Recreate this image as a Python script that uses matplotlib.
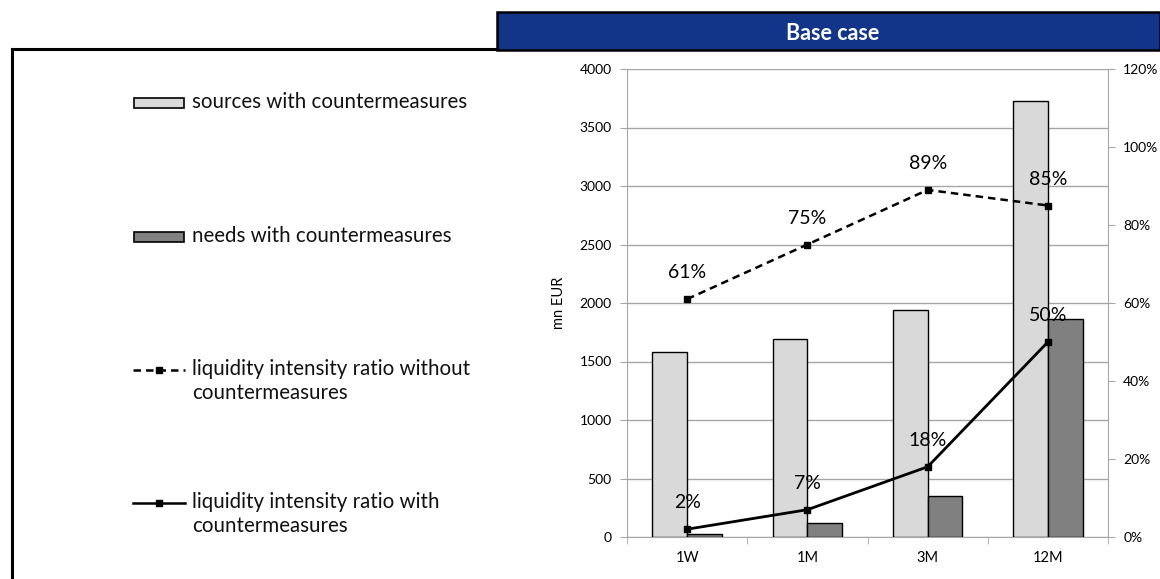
import matplotlib
matplotlib.use("Agg")
import matplotlib.pyplot as plt
from matplotlib.patches import Rectangle
from matplotlib.lines import Line2D
from matplotlib.ticker import FuncFormatter, FixedLocator
import numpy as np

categories = ["1W", "1M", "3M", "12M"]
sources = [1580, 1690, 1940, 3725]
needs = [25, 120, 350, 1860]
ratio_without = [0.61, 0.75, 0.89, 0.85]
ratio_with = [0.02, 0.07, 0.18, 0.50]
legend_labels = ["sources with countermeasures", "needs with countermeasures",
                 "liquidity intensity ratio without\ncountermeasures",
                 "liquidity intensity ratio with\ncountermeasures"]
title = "Base case"

plt.rcParams['font.family'] = ['Lato', 'DejaVu Sans']
W, H = 1160, 579
fig = plt.figure(figsize=(W / 100, H / 100), dpi=100)

def fx(px):
    return px / W
def fy(py):
    return 1 - py / H

# header
fig.add_artist(Rectangle((fx(497), fy(50)), fx(1160) - fx(497), fy(12) - fy(50),
                         transform=fig.transFigure, facecolor="#12358A",
                         edgecolor="black", linewidth=1.8))
fig.text(fx(833), fy(33), title, color="white", fontsize=15.5, fontweight="bold",
         ha="center", va="center")
fig.add_artist(Line2D([fx(12), fx(497)], [fy(48.5), fy(48.5)], color="black", lw=2.2,
                      transform=fig.transFigure))
fig.add_artist(Line2D([fx(12), fx(12)], [fy(48.5), 0], color="black", lw=2.2,
                      transform=fig.transFigure))

ax = fig.add_axes([fx(627), fy(537), fx(1108) - fx(627), fy(69) - fy(537)])
x = np.arange(len(categories))
bw = 0.29
ax.bar(x - bw / 2, sources, width=bw, color="#D9D9D9", edgecolor="black", linewidth=1.0, zorder=3)
ax.bar(x + bw / 2, needs, width=bw, color="#808080", edgecolor="black", linewidth=1.0, zorder=3)
ax.set_xlim(-0.5, len(categories) - 0.5)
ax.set_ylim(0, 4000)
ax.set_yticks(np.arange(0, 4001, 500))
ax.yaxis.grid(True, color="#A6A6A6", linewidth=1.0, zorder=0)
ax.set_axisbelow(True)
ax.set_xticks(x)
ax.set_xticklabels(categories)
ax.xaxis.set_minor_locator(FixedLocator(np.arange(-0.5, len(categories), 1.0)))
ax.tick_params(axis="x", which="major", length=0, labelsize=10.5, pad=10)
ax.tick_params(axis="x", which="minor", length=5, color="#A6A6A6", direction="out")
ax.tick_params(axis="y", labelsize=10, length=5, color="#A6A6A6", direction="out", pad=6)
ax.set_ylabel("mn EUR", fontsize=10.5, labelpad=10)
for s in ["top", "right"]:
    ax.spines[s].set_visible(False)
for s in ["left", "bottom"]:
    ax.spines[s].set_color("#A6A6A6")

ax2 = ax.twinx()
ax2.set_ylim(0, 1.2)
ax2.set_yticks(np.arange(0, 1.21, 0.2))
ax2.yaxis.set_major_formatter(FuncFormatter(lambda v, p: f"{v*100:.0f}%"))
ax2.tick_params(axis="y", labelsize=10, length=5, color="#A6A6A6", direction="out", pad=6)
for s in ["top", "left", "bottom"]:
    ax2.spines[s].set_visible(False)
ax2.spines["right"].set_color("#A6A6A6")

ax2.plot(x, ratio_without, color="black", linestyle=(0, (3, 2)), linewidth=1.8,
         marker="s", markersize=5, zorder=5)
ax2.plot(x, ratio_with, color="black", linestyle="-", linewidth=2.0,
         marker="s", markersize=5, zorder=5)
for xi, v in zip(x, ratio_without):
    ax2.annotate(f"{v*100:.0f}%", (xi, v), xytext=(0, 19), textcoords="offset points",
                 ha="center", va="center", fontsize=14)
for xi, v in zip(x, ratio_with):
    ax2.annotate(f"{v*100:.0f}%", (xi, v), xytext=(0, 19), textcoords="offset points",
                 ha="center", va="center", fontsize=14)

# legend (manual)
leg_y = [103, 237, 370, 503]
fs_leg = 14.8
for i, (lab, yy) in enumerate(zip(legend_labels, leg_y)):
    if i < 2:
        col = "#D9D9D9" if i == 0 else "#808080"
        fig.add_artist(Rectangle((fx(134), fy(yy + 5)), fx(184) - fx(134), fy(yy - 5) - fy(yy + 5),
                                 transform=fig.transFigure, facecolor=col,
                                 edgecolor="black", linewidth=1.2))
    else:
        ls = (0, (3, 2)) if i == 2 else "-"
        fig.add_artist(Line2D([fx(133), fx(185)], [fy(yy), fy(yy)], color="black", lw=1.8,
                              linestyle=ls, marker=None, transform=fig.transFigure))
        fig.add_artist(Line2D([fx(159)], [fy(yy)], color="black", marker="s", markersize=5,
                              linestyle="none", transform=fig.transFigure))
    fig.text(fx(192), fy(yy - 11), lab, fontsize=fs_leg, ha="left", va="top",
             linespacing=1.25, color="#111111")

fig.savefig("out.png", dpi=100)
